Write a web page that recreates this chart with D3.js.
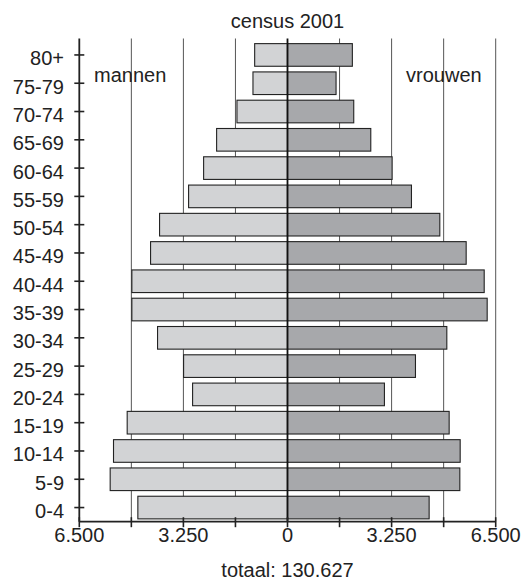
<!DOCTYPE html>
<html>
<head>
<meta charset="utf-8">
<script src="https://cdn.jsdelivr.net/npm/d3@7"></script>
<style>
  html, body { margin: 0; padding: 0; background: #fff; }
  svg text { font-family: "Liberation Sans", Arial, sans-serif; fill: #222; }
</style>
</head>
<body>
<svg id="chart" width="523" height="583"></svg>
<script>
const categories = ["80+","75-79","70-74","65-69","60-64","55-59","50-54","45-49","40-44","35-39","30-34","25-29","20-24","15-19","10-14","5-9","0-4"];
const mannen  = [1025,1078,1578,2213,2619,3088,3994,4275,4859,4859,4057,3244,2963,5005,5432,5536,4672];
const vrouwen = [2025,1516,2068,2600,3266,3870,4755,5578,6141,6234,4974,3995,3026,5047,5391,5380,4422];
const tickValues = [-6500,-4875,-3250,-1625,0,1625,3250,4875,6500];
const labelTicks = [-6500,-3250,0,3250,6500];
const title = "census 2001";
const footer = "totaal: 130.627";

const svg = d3.select("#chart");
const x = d3.scaleLinear().domain([-6500, 6500]).range([79.3, 495.7]);
const y = d3.scaleBand().domain(categories).range([40.8, 521.7]).paddingInner(0.2).paddingOuter(0.1);
const plotTop = 38.5, plotBottom = 521.7;
const fmt = v => d3.format(",")(Math.abs(v)).replace(/,/g, ".");

// gridlines
svg.append("g").selectAll("line")
  .data(tickValues.filter(v => v !== 0 && v !== -6500))
  .join("line")
  .attr("x1", d => x(d)).attr("x2", d => x(d))
  .attr("y1", plotTop).attr("y2", plotBottom)
  .attr("stroke", "#555").attr("stroke-width", 1);

// bars
const data = categories.map((c, i) => ({c, m: mannen[i], v: vrouwen[i]}));
svg.append("g").selectAll("rect")
  .data(data).join("rect")
  .attr("x", d => x(-d.m)).attr("width", d => x(0) - x(-d.m))
  .attr("y", d => y(d.c)).attr("height", y.bandwidth())
  .attr("fill", "#d2d3d5").attr("stroke", "#222").attr("stroke-width", 1.1);
svg.append("g").selectAll("rect")
  .data(data).join("rect")
  .attr("x", x(0)).attr("width", d => x(d.v) - x(0))
  .attr("y", d => y(d.c)).attr("height", y.bandwidth())
  .attr("fill", "#a7a8ab").attr("stroke", "#222").attr("stroke-width", 1.1);

// center line
svg.append("line")
  .attr("x1", x(0)).attr("x2", x(0)).attr("y1", plotTop).attr("y2", plotBottom)
  .attr("stroke", "#111").attr("stroke-width", 1.8);

// y axis
const yAxis = svg.append("g");
yAxis.append("line").attr("x1", x(-6500)).attr("x2", x(-6500)).attr("y1", plotTop).attr("y2", plotBottom)
  .attr("stroke", "#222").attr("stroke-width", 1.8);
yAxis.selectAll("line.tick").data(categories).join("line").attr("class","tick")
  .attr("x1", x(-6500) - 5).attr("x2", x(-6500) + 5)
  .attr("y1", d => y(d) + y.bandwidth()/2).attr("y2", d => y(d) + y.bandwidth()/2)
  .attr("stroke", "#222").attr("stroke-width", 1.6);
yAxis.selectAll("text").data(categories).join("text")
  .attr("x", 64).attr("y", d => y(d) + y.bandwidth()/2 + 10.5)
  .attr("text-anchor", "end").attr("font-size", 20).text(d => d);

// x axis
const xAxis = svg.append("g");
xAxis.append("line").attr("x1", x(-6500)).attr("x2", x(6500)).attr("y1", plotBottom).attr("y2", plotBottom)
  .attr("stroke", "#222").attr("stroke-width", 1.8);
xAxis.selectAll("line.tick").data(tickValues).join("line").attr("class","tick")
  .attr("x1", d => x(d)).attr("x2", d => x(d)).attr("y1", plotBottom - 4.5).attr("y2", plotBottom + 5.5)
  .attr("stroke", "#222").attr("stroke-width", 1.6);
xAxis.selectAll("text").data(labelTicks).join("text")
  .attr("x", d => x(d)).attr("y", 542)
  .attr("text-anchor", "middle").attr("font-size", 20).text(d => fmt(d));

// titles
svg.append("text").attr("x", x(0)).attr("y", 28.3).attr("text-anchor","middle").attr("font-size",20).text(title);
svg.append("text").attr("x", x(0)).attr("y", 577).attr("text-anchor","middle").attr("font-size",20).text(footer);
svg.append("text").attr("x", 94).attr("y", 81.7).attr("font-size",20).text("mannen");
svg.append("text").attr("x", 481.7).attr("y", 81.7).attr("text-anchor","end").attr("font-size",20).text("vrouwen");
</script>
</body>
</html>
